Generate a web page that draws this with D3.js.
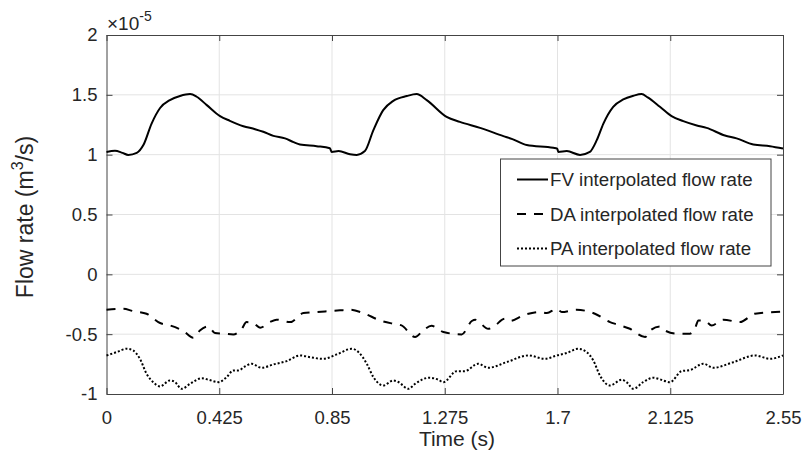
<!DOCTYPE html>
<html>
<head>
<meta charset="UTF-8">
<script src="https://d3js.org/d3.v7.min.js"></script>
<style>
    body { margin: 0; background: #fff; }
    text { font-family: "Liberation Sans", Arial, sans-serif; fill: #262626; }
</style>
</head>
<body>
<svg width="806" height="457"></svg>
<script>
// values in units of 1e-5 m^3/s
const fvTime = [0, 0.032, 0.06, 0.082, 0.114, 0.139, 0.170, 0.202, 0.239, 0.277, 0.315, 0.340, 0.378, 0.428, 0.465,
    0.516, 0.560, 0.591, 0.629, 0.673, 0.705, 0.729, 0.792, 0.842, 0.849, 0.875, 0.918, 0.943, 0.974, 1.006, 1.043,
    1.081, 1.132, 1.169, 1.207, 1.282, 1.332, 1.408, 1.496, 1.53, 1.584, 1.684, 1.699, 1.703, 1.735, 1.785, 1.822,
    1.848, 1.873, 1.910, 1.948, 1.986, 2.017, 2.04, 2.086, 2.130, 2.174, 2.225, 2.262, 2.331, 2.375, 2.438, 2.501, 2.55];
const fvFlow = [1.023, 1.032, 1.015, 0.998, 1.015, 1.08, 1.26, 1.39, 1.456, 1.49, 1.506, 1.484, 1.414, 1.322, 1.283,
    1.238, 1.213, 1.191, 1.157, 1.136, 1.105, 1.085, 1.071, 1.054, 1.023, 1.03, 1.004, 0.998, 1.03, 1.205, 1.372,
    1.45, 1.49, 1.506, 1.456, 1.316, 1.274, 1.224, 1.155, 1.13, 1.08, 1.057, 1.05, 1.023, 1.03, 0.998, 1.023,
    1.121, 1.26, 1.40, 1.462, 1.492, 1.506, 1.478, 1.40, 1.322, 1.28, 1.244, 1.224, 1.16, 1.136, 1.085, 1.071, 1.052];

const daTime = [0, 0.063, 0.1, 0.151, 0.202, 0.239, 0.290, 0.327, 0.352, 0.384, 0.409, 0.440, 0.478, 0.510, 0.528,
    0.553, 0.579, 0.616, 0.641, 0.692, 0.742, 0.792, 0.842, 0.880, 0.918, 0.968, 1.031, 1.081, 1.112, 1.163, 1.194,
    1.225, 1.270, 1.339, 1.377, 1.39, 1.439, 1.46, 1.502, 1.52, 1.577, 1.634, 1.66, 1.697, 1.716, 1.772, 1.841,
    1.898, 1.923, 1.973, 2.030, 2.05, 2.086, 2.105, 2.149, 2.199, 2.22, 2.231, 2.257, 2.281, 2.325, 2.388, 2.444, 2.55];
const daFlow = [-0.296, -0.288, -0.307, -0.329, -0.407, -0.427, -0.474, -0.53, -0.469, -0.435, -0.491, -0.496, -0.502,
    -0.455, -0.399, -0.407, -0.446, -0.399, -0.379, -0.399, -0.324, -0.315, -0.307, -0.301, -0.296, -0.324, -0.385,
    -0.413, -0.427, -0.524, -0.469, -0.43, -0.482, -0.502, -0.39, -0.379, -0.455, -0.435, -0.371, -0.39, -0.338,
    -0.315, -0.324, -0.288, -0.315, -0.296, -0.329, -0.399, -0.418, -0.455, -0.524, -0.469, -0.435, -0.469, -0.496,
    -0.496, -0.441, -0.385, -0.39, -0.427, -0.379, -0.399, -0.329, -0.312];

const paTime = [0, 0.038, 0.076, 0.1, 0.126, 0.151, 0.176, 0.202, 0.239, 0.258, 0.283, 0.315, 0.359, 0.384, 0.421,
    0.453, 0.478, 0.497, 0.522, 0.547, 0.585, 0.629, 0.679, 0.729, 0.767, 0.817, 0.868, 0.924, 0.95, 0.981, 1.006,
    1.043, 1.081, 1.1, 1.138, 1.163, 1.216, 1.25, 1.270, 1.320, 1.35, 1.401, 1.439, 1.508, 1.590, 1.653, 1.697,
    1.735, 1.778, 1.81, 1.835, 1.860, 1.898, 1.942, 1.96, 1.986, 2.023, 2.061, 2.09, 2.124, 2.168, 2.2, 2.250,
    2.287, 2.363, 2.444, 2.501, 2.55];
const paFlow = [-0.678, -0.65, -0.622, -0.636, -0.706, -0.831, -0.901, -0.937, -0.887, -0.9, -0.957, -0.915, -0.868,
    -0.88, -0.901, -0.859, -0.803, -0.803, -0.77, -0.747, -0.781, -0.753, -0.725, -0.678, -0.692, -0.706, -0.669,
    -0.622, -0.65, -0.747, -0.859, -0.929, -0.887, -0.9, -0.957, -0.915, -0.864, -0.88, -0.901, -0.809, -0.809,
    -0.747, -0.781, -0.734, -0.678, -0.706, -0.678, -0.657, -0.622, -0.65, -0.72, -0.845, -0.929, -0.881, -0.9,
    -0.957, -0.901, -0.864, -0.88, -0.901, -0.809, -0.8, -0.747, -0.781, -0.734, -0.678, -0.706, -0.678];

const xTicks = [0, 0.425, 0.85, 1.275, 1.7, 2.125, 2.55];
const xTickLabels = ["0", "0.425", "0.85", "1.275", "1.7", "2.125", "2.55"];
const yTicks = [-1, -0.5, 0, 0.5, 1, 1.5, 2];
const yTickLabels = ["-1", "-0.5", "0", "0.5", "1", "1.5", "2"];

const seriesNames = ["FV interpolated flow rate", "DA interpolated flow rate", "PA interpolated flow rate"];

const svg = d3.select("svg");
const plotLeft = 106.5, plotRight = 783, plotTop = 35, plotBottom = 394;

const x = d3.scaleLinear().domain([0, 2.55]).range([plotLeft, plotRight]);
const y = d3.scaleLinear().domain([-1, 2]).range([plotBottom, plotTop]);

// grid
svg.append("g").selectAll("line").data(xTicks.slice(1, -1)).enter().append("line")
    .attr("x1", d => x(d)).attr("x2", d => x(d)).attr("y1", plotTop).attr("y2", plotBottom)
    .attr("stroke", "#e3e3e3").attr("stroke-width", 1);
svg.append("g").selectAll("line").data(yTicks.slice(1, -1)).enter().append("line")
    .attr("x1", plotLeft).attr("x2", plotRight).attr("y1", d => y(d)).attr("y2", d => y(d))
    .attr("stroke", "#e3e3e3").attr("stroke-width", 1);

// axes (ticks inside, box on)
function styleAxis(g) {
    g.select(".domain").attr("stroke", "#444");
    g.selectAll(".tick line").attr("stroke", "#444");
    g.selectAll(".tick text").attr("fill", "#262626")
        .style("font-family", '"Liberation Sans", Arial, sans-serif').style("font-size", "18.5px");
}

svg.append("g").attr("transform", `translate(0,${plotBottom})`)
    .call(d3.axisBottom(x).tickValues(xTicks).tickFormat((d, i) => xTickLabels[i])
        .tickSizeInner(-6).tickSizeOuter(0).tickPadding(17))
    .call(styleAxis);
svg.append("g").attr("transform", `translate(0,${plotTop})`)
    .call(d3.axisTop(x).tickValues(xTicks).tickFormat("").tickSizeInner(-6).tickSizeOuter(0))
    .call(styleAxis);
svg.append("g").attr("transform", `translate(${plotLeft},0)`)
    .call(d3.axisLeft(y).tickValues(yTicks).tickFormat((d, i) => yTickLabels[i])
        .tickSizeInner(-6).tickSizeOuter(0).tickPadding(9))
    .call(styleAxis);
svg.append("g").attr("transform", `translate(${plotRight},0)`)
    .call(d3.axisRight(y).tickValues(yTicks).tickFormat("").tickSizeInner(-6).tickSizeOuter(0))
    .call(styleAxis);

// curves
const line = d3.line().x(d => x(d[0])).y(d => y(d[1])).curve(d3.curveMonotoneX);
const dashes = [null, "9,8", "2,2"];
const series = [d3.zip(fvTime, fvFlow), d3.zip(daTime, daFlow), d3.zip(paTime, paFlow)];

svg.append("g").selectAll("path").data(series).enter().append("path")
    .attr("d", line)
    .attr("fill", "none")
    .attr("stroke", "#000")
    .attr("stroke-width", 2)
    .attr("stroke-dasharray", (d, i) => dashes[i]);

// exponent label
const expo = svg.append("text").attr("x", 107).attr("y", 30).style("font-size", "19px");
expo.append("tspan").text("\u00d710");
expo.append("tspan").attr("dy", -9).style("font-size", "14px").text("-5");

// axis titles
svg.append("text").attr("x", 457).attr("y", 446).attr("text-anchor", "middle")
    .style("font-size", "21px").text("Time (s)");

const yl = svg.append("text").attr("transform", "translate(33,217) rotate(-90)")
    .attr("text-anchor", "middle").style("font-size", "23px");
yl.append("tspan").text("Flow rate (m");
yl.append("tspan").attr("dy", -10).style("font-size", "16px").text("3");
yl.append("tspan").attr("dy", 10).text("/s)");

// legend
const lg = svg.append("g");
lg.append("rect").attr("x", 500.5).attr("y", 159).attr("width", 270.5).attr("height", 107)
    .attr("fill", "#fff").attr("stroke", "#444").attr("stroke-width", 1);
const rows = lg.selectAll("g.row").data(seriesNames).enter().append("g")
    .attr("class", "row")
    .attr("transform", (d, i) => `translate(0,${179.5 + i * 34.5})`);
rows.append("line").attr("x1", 517).attr("x2", 548).attr("y1", 0).attr("y2", 0)
    .attr("stroke", "#000").attr("stroke-width", 2)
    .attr("stroke-dasharray", (d, i) => dashes[i]);
rows.append("text").attr("x", 550).attr("y", 6.5).style("font-size", "18.7px").text(d => d);
</script>
</body>
</html>
